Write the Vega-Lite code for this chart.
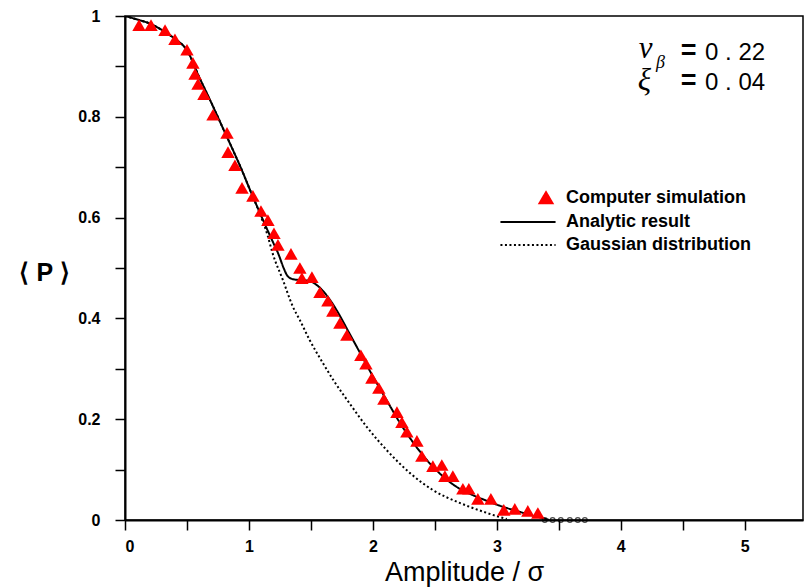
{
  "$schema": "https://vega.github.io/schema/vega-lite/v6.json",
  "width": 678,
  "height": 504,
  "autosize": {"type": "none"},
  "padding": {"left": 125, "top": 16, "right": 2, "bottom": 67},
  "background": "white",
  "config": {
    "view": {"stroke": "black", "strokeWidth": 1.5},
    "axis": {"grid": false, "domainColor": "black", "domainWidth": 2, "tickColor": "black", "tickWidth": 1.5, "labelColor": "black", "titleColor": "black"}
  },
  "datasets": {
    "sim": [
      {"series": "Computer simulation", "x": 0.113, "y": 0.982},
      {"series": "Computer simulation", "x": 0.210, "y": 0.982},
      {"series": "Computer simulation", "x": 0.323, "y": 0.972},
      {"series": "Computer simulation", "x": 0.403, "y": 0.954},
      {"series": "Computer simulation", "x": 0.500, "y": 0.933},
      {"series": "Computer simulation", "x": 0.548, "y": 0.907},
      {"series": "Computer simulation", "x": 0.565, "y": 0.885},
      {"series": "Computer simulation", "x": 0.589, "y": 0.865},
      {"series": "Computer simulation", "x": 0.637, "y": 0.845},
      {"series": "Computer simulation", "x": 0.710, "y": 0.804},
      {"series": "Computer simulation", "x": 0.823, "y": 0.768},
      {"series": "Computer simulation", "x": 0.831, "y": 0.730},
      {"series": "Computer simulation", "x": 0.887, "y": 0.704},
      {"series": "Computer simulation", "x": 0.944, "y": 0.659},
      {"series": "Computer simulation", "x": 1.032, "y": 0.643},
      {"series": "Computer simulation", "x": 1.097, "y": 0.613},
      {"series": "Computer simulation", "x": 1.153, "y": 0.595},
      {"series": "Computer simulation", "x": 1.202, "y": 0.569},
      {"series": "Computer simulation", "x": 1.234, "y": 0.546},
      {"series": "Computer simulation", "x": 1.339, "y": 0.528},
      {"series": "Computer simulation", "x": 1.411, "y": 0.500},
      {"series": "Computer simulation", "x": 1.427, "y": 0.480},
      {"series": "Computer simulation", "x": 1.508, "y": 0.482},
      {"series": "Computer simulation", "x": 1.573, "y": 0.452},
      {"series": "Computer simulation", "x": 1.637, "y": 0.435},
      {"series": "Computer simulation", "x": 1.677, "y": 0.415},
      {"series": "Computer simulation", "x": 1.734, "y": 0.391},
      {"series": "Computer simulation", "x": 1.790, "y": 0.367},
      {"series": "Computer simulation", "x": 1.903, "y": 0.327},
      {"series": "Computer simulation", "x": 1.944, "y": 0.310},
      {"series": "Computer simulation", "x": 1.992, "y": 0.282},
      {"series": "Computer simulation", "x": 2.048, "y": 0.262},
      {"series": "Computer simulation", "x": 2.089, "y": 0.240},
      {"series": "Computer simulation", "x": 2.194, "y": 0.214},
      {"series": "Computer simulation", "x": 2.234, "y": 0.194},
      {"series": "Computer simulation", "x": 2.274, "y": 0.175},
      {"series": "Computer simulation", "x": 2.355, "y": 0.157},
      {"series": "Computer simulation", "x": 2.395, "y": 0.127},
      {"series": "Computer simulation", "x": 2.484, "y": 0.107},
      {"series": "Computer simulation", "x": 2.556, "y": 0.109},
      {"series": "Computer simulation", "x": 2.581, "y": 0.087},
      {"series": "Computer simulation", "x": 2.645, "y": 0.087},
      {"series": "Computer simulation", "x": 2.726, "y": 0.062},
      {"series": "Computer simulation", "x": 2.774, "y": 0.062},
      {"series": "Computer simulation", "x": 2.847, "y": 0.042},
      {"series": "Computer simulation", "x": 2.952, "y": 0.042},
      {"series": "Computer simulation", "x": 3.056, "y": 0.020},
      {"series": "Computer simulation", "x": 3.145, "y": 0.022},
      {"series": "Computer simulation", "x": 3.250, "y": 0.018},
      {"series": "Computer simulation", "x": 3.331, "y": 0.014}
    ],
    "curves": [
      {"series": "Analytic result", "x": 0.0, "y": 1.0},
      {"series": "Analytic result", "x": 0.1, "y": 0.993},
      {"series": "Analytic result", "x": 0.2, "y": 0.985},
      {"series": "Analytic result", "x": 0.3, "y": 0.972},
      {"series": "Analytic result", "x": 0.4, "y": 0.955},
      {"series": "Analytic result", "x": 0.5, "y": 0.932},
      {"series": "Analytic result", "x": 0.6, "y": 0.878},
      {"series": "Analytic result", "x": 0.7, "y": 0.826},
      {"series": "Analytic result", "x": 0.8, "y": 0.772},
      {"series": "Analytic result", "x": 0.871, "y": 0.734},
      {"series": "Analytic result", "x": 0.95, "y": 0.69},
      {"series": "Analytic result", "x": 1.0, "y": 0.66},
      {"series": "Analytic result", "x": 1.089, "y": 0.609},
      {"series": "Analytic result", "x": 1.15, "y": 0.575},
      {"series": "Analytic result", "x": 1.2, "y": 0.548},
      {"series": "Analytic result", "x": 1.234, "y": 0.53},
      {"series": "Analytic result", "x": 1.28, "y": 0.5},
      {"series": "Analytic result", "x": 1.306, "y": 0.486},
      {"series": "Analytic result", "x": 1.34, "y": 0.479},
      {"series": "Analytic result", "x": 1.371, "y": 0.477},
      {"series": "Analytic result", "x": 1.476, "y": 0.475},
      {"series": "Analytic result", "x": 1.548, "y": 0.466},
      {"series": "Analytic result", "x": 1.653, "y": 0.437},
      {"series": "Analytic result", "x": 1.734, "y": 0.405},
      {"series": "Analytic result", "x": 1.8, "y": 0.375},
      {"series": "Analytic result", "x": 1.9, "y": 0.33},
      {"series": "Analytic result", "x": 2.0, "y": 0.285},
      {"series": "Analytic result", "x": 2.11, "y": 0.238},
      {"series": "Analytic result", "x": 2.22, "y": 0.192},
      {"series": "Analytic result", "x": 2.33, "y": 0.152},
      {"series": "Analytic result", "x": 2.435, "y": 0.119},
      {"series": "Analytic result", "x": 2.55, "y": 0.09},
      {"series": "Analytic result", "x": 2.68, "y": 0.065},
      {"series": "Analytic result", "x": 2.8, "y": 0.05},
      {"series": "Analytic result", "x": 2.92, "y": 0.038},
      {"series": "Analytic result", "x": 3.04, "y": 0.027},
      {"series": "Analytic result", "x": 3.16, "y": 0.018},
      {"series": "Analytic result", "x": 3.27, "y": 0.01},
      {"series": "Analytic result", "x": 3.35, "y": 0.005},
      {"series": "Analytic result", "x": 3.42, "y": 0.0},
      {"series": "Gaussian distribution", "x": 0.0, "y": 1.0},
      {"series": "Gaussian distribution", "x": 0.1, "y": 0.993},
      {"series": "Gaussian distribution", "x": 0.2, "y": 0.985},
      {"series": "Gaussian distribution", "x": 0.3, "y": 0.972},
      {"series": "Gaussian distribution", "x": 0.4, "y": 0.955},
      {"series": "Gaussian distribution", "x": 0.5, "y": 0.932},
      {"series": "Gaussian distribution", "x": 0.6, "y": 0.878},
      {"series": "Gaussian distribution", "x": 0.7, "y": 0.826},
      {"series": "Gaussian distribution", "x": 0.8, "y": 0.772},
      {"series": "Gaussian distribution", "x": 0.871, "y": 0.734},
      {"series": "Gaussian distribution", "x": 0.95, "y": 0.69},
      {"series": "Gaussian distribution", "x": 1.0, "y": 0.66},
      {"series": "Gaussian distribution", "x": 1.089, "y": 0.607},
      {"series": "Gaussian distribution", "x": 1.15, "y": 0.565},
      {"series": "Gaussian distribution", "x": 1.19, "y": 0.53},
      {"series": "Gaussian distribution", "x": 1.274, "y": 0.476},
      {"series": "Gaussian distribution", "x": 1.355, "y": 0.423},
      {"series": "Gaussian distribution", "x": 1.41, "y": 0.397},
      {"series": "Gaussian distribution", "x": 1.49, "y": 0.357},
      {"series": "Gaussian distribution", "x": 1.6, "y": 0.31},
      {"series": "Gaussian distribution", "x": 1.68, "y": 0.278},
      {"series": "Gaussian distribution", "x": 1.81, "y": 0.232},
      {"series": "Gaussian distribution", "x": 1.95, "y": 0.185},
      {"series": "Gaussian distribution", "x": 2.11, "y": 0.139},
      {"series": "Gaussian distribution", "x": 2.3, "y": 0.093},
      {"series": "Gaussian distribution", "x": 2.48, "y": 0.06},
      {"series": "Gaussian distribution", "x": 2.7, "y": 0.034},
      {"series": "Gaussian distribution", "x": 2.92, "y": 0.014},
      {"series": "Gaussian distribution", "x": 3.02, "y": 0.006},
      {"series": "Gaussian distribution", "x": 3.08, "y": 0.002}
    ],
    "tail": [
      {"x": 3.387, "y": 0.0},
      {"x": 3.45, "y": 0.0},
      {"x": 3.516, "y": 0.0},
      {"x": 3.589, "y": 0.0},
      {"x": 3.653, "y": 0.0},
      {"x": 3.71, "y": 0.0}
    ],
    "one": [{"k": 1}]
  },
  "layer": [
    {
      "data": {"name": "curves"},
      "mark": {"type": "line", "strokeWidth": 2, "interpolate": "monotone", "clip": true},
      "encoding": {
        "x": {"field": "x", "type": "quantitative", "scale": {"domain": [0, 5.47], "nice": false, "zero": false},
          "axis": {
            "values": [0, 0.5, 1, 1.5, 2, 2.5, 3, 3.5, 4, 4.5, 5],
            "labelExpr": "datum.value % 1 === 0 ? format(datum.value, '~g') : ''",
            "tickSize": 10, "labelPadding": 8,
            "labelFont": "Liberation Sans", "labelFontWeight": "bold", "labelFontSize": 16,
            "title": "Amplitude / σ", "titleFont": "Liberation Sans", "titleFontWeight": "normal", "titleFontSize": 27, "titlePadding": 5,
            "encode": {"ticks": {"update": {"y2": {"signal": "datum.value % 1 === 0 ? -10 : -5"}}}}
          }},
        "y": {"field": "y", "type": "quantitative", "scale": {"domain": [0, 1], "nice": false},
          "axis": {
            "values": [0, 0.1, 0.2, 0.3, 0.4, 0.5, 0.6, 0.7, 0.8, 0.9, 1],
            "labelExpr": "round(datum.value*10) % 2 === 0 ? format(datum.value, '~g') : ''",
            "tickSize": 10, "labelPadding": 15,
            "labelFont": "Liberation Sans", "labelFontWeight": "bold", "labelFontSize": 16,
            "title": "⟨ P ⟩", "titleFont": "Liberation Sans", "titleFontWeight": "bold", "titleFontSize": 25,
            "titleAngle": 0, "titleAlign": "center", "titleBaseline": "middle", "titleX": -81, "titleY": 256,
            "encode": {"ticks": {"update": {"x2": {"signal": "round(datum.value*10) % 2 === 0 ? 10 : 5"}}}}
          }},
        "color": {"field": "series", "type": "nominal",
          "scale": {"domain": ["Computer simulation", "Analytic result", "Gaussian distribution"], "range": ["#ff0000", "black", "black"]},
          "legend": {
            "title": null, "orient": "none", "legendX": 394, "legendY": 173, "padding": 0,
            "symbolSize": 150, "labelOffset": 29, "rowPadding": 5,
            "labelFont": "Liberation Sans", "labelFontWeight": "bold", "labelFontSize": 18, "labelColor": "black", "labelLimit": 400,
            "symbolStrokeWidth": 2,
            "encode": {"symbols": {"update": {
              "shape": [{"test": "datum.value === 'Computer simulation'", "value": "M2.94,-0.95L4.0,0.85L1.88,0.85Z"}, {"value": "M-4.5,0H4.5"}],
              "strokeDash": [{"test": "datum.value === 'Gaussian distribution'", "value": [2, 2.5]}, {"value": [1, 0]}],
              "fill": [{"test": "datum.value === 'Computer simulation'", "value": "#ff0000"}, {"value": "transparent"}],
              "stroke": [{"test": "datum.value === 'Computer simulation'", "value": "transparent"}, {"value": "black"}],
              "opacity": {"value": 1}
            }}}
          }},
        "strokeDash": {"field": "series", "type": "nominal",
          "scale": {"domain": ["Computer simulation", "Analytic result", "Gaussian distribution"], "range": [[1, 0], [1, 0], [2, 2.5]]},
          "legend": null}
      }
    },
    {
      "data": {"name": "tail"},
      "mark": {"type": "point", "shape": "circle", "size": 22, "filled": false, "stroke": "black", "strokeWidth": 1.3},
      "encoding": {
        "x": {"field": "x", "type": "quantitative"},
        "y": {"field": "y", "type": "quantitative"}
      }
    },
    {
      "data": {"name": "sim"},
      "mark": {"type": "point", "shape": "triangle-up", "size": 180, "filled": true, "opacity": 1},
      "encoding": {
        "x": {"field": "x", "type": "quantitative"},
        "y": {"field": "y", "type": "quantitative"},
        "color": {"field": "series", "type": "nominal",
          "scale": {"domain": ["Computer simulation", "Analytic result", "Gaussian distribution"], "range": ["#ff0000", "black", "black"]},
          "legend": {
            "title": null, "orient": "none", "legendX": 394, "legendY": 173, "padding": 0,
            "symbolSize": 150, "labelOffset": 29, "rowPadding": 5,
            "labelFont": "Liberation Sans", "labelFontWeight": "bold", "labelFontSize": 18, "labelColor": "black", "labelLimit": 400,
            "symbolStrokeWidth": 2,
            "encode": {"symbols": {"update": {
              "shape": [{"test": "datum.value === 'Computer simulation'", "value": "M2.94,-0.95L4.0,0.85L1.88,0.85Z"}, {"value": "M-4.5,0H4.5"}],
              "strokeDash": [{"test": "datum.value === 'Gaussian distribution'", "value": [2, 2.5]}, {"value": [1, 0]}],
              "fill": [{"test": "datum.value === 'Computer simulation'", "value": "#ff0000"}, {"value": "transparent"}],
              "stroke": [{"test": "datum.value === 'Computer simulation'", "value": "transparent"}, {"value": "black"}],
              "opacity": {"value": 1}
            }}}
          }}
      }
    },
    {
      "data": {"name": "one"},
      "mark": {"type": "text", "text": "ν", "font": "Liberation Serif", "fontStyle": "italic", "fontSize": 31, "align": "center", "baseline": "alphabetic", "color": "black"},
      "encoding": {"x": {"datum": 4.2}, "y": {"datum": 0.917}}
    },
    {
      "data": {"name": "one"},
      "mark": {"type": "text", "text": "β", "font": "Liberation Serif", "fontStyle": "italic", "fontSize": 18, "align": "center", "baseline": "alphabetic", "color": "black"},
      "encoding": {"x": {"datum": 4.32}, "y": {"datum": 0.897}}
    },
    {
      "data": {"name": "one"},
      "mark": {"type": "text", "text": "ξ", "font": "Liberation Serif", "fontStyle": "italic", "fontSize": 31, "align": "center", "baseline": "alphabetic", "color": "black"},
      "encoding": {"x": {"datum": 4.19}, "y": {"datum": 0.853}}
    },
    {
      "data": {"name": "one"},
      "mark": {"type": "text", "text": "=", "font": "Liberation Sans", "fontWeight": "bold", "fontSize": 27, "align": "center", "baseline": "alphabetic", "color": "black"},
      "encoding": {"x": {"datum": 4.548}, "y": {"datum": 0.915}}
    },
    {
      "data": {"name": "one"},
      "mark": {"type": "text", "text": "=", "font": "Liberation Sans", "fontWeight": "bold", "fontSize": 27, "align": "center", "baseline": "alphabetic", "color": "black"},
      "encoding": {"x": {"datum": 4.548}, "y": {"datum": 0.855}}
    },
    {
      "data": {"name": "one"},
      "mark": {"type": "text", "text": "0 . 22", "font": "Liberation Sans", "fontSize": 24, "align": "left", "baseline": "alphabetic", "color": "black"},
      "encoding": {"x": {"datum": 4.68}, "y": {"datum": 0.9127}}
    },
    {
      "data": {"name": "one"},
      "mark": {"type": "text", "text": "0 . 04", "font": "Liberation Sans", "fontSize": 24, "align": "left", "baseline": "alphabetic", "color": "black"},
      "encoding": {"x": {"datum": 4.68}, "y": {"datum": 0.8532}}
    }
  ]
}
